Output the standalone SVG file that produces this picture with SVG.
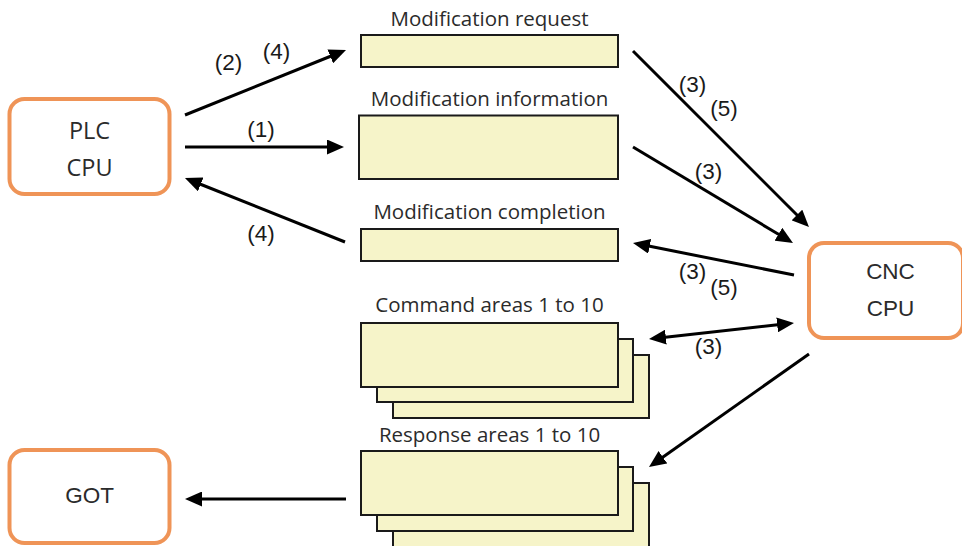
<svg xmlns="http://www.w3.org/2000/svg" width="962" height="546" viewBox="0 0 962 546">
<defs>
<style>
.dev{fill:#ffffff;stroke:#EF9457;stroke-width:4}
.area{fill:#F6F4C9;stroke:#1a1a1a;stroke-width:2}
.lbl{font-family:"Open Sans","Noto Sans",sans-serif;font-size:20.5px;fill:#2b2b2b;text-anchor:middle}
.plc{font-family:"Open Sans","Noto Sans",sans-serif;font-size:23.5px;fill:#2b2b2b;text-anchor:middle}
.dv{font-family:"Liberation Sans",Arial,sans-serif;font-size:22.5px;fill:#2b2b2b;text-anchor:middle}
.num{font-family:"Liberation Sans",Arial,sans-serif;font-size:22.5px;fill:#1a1a1a;text-anchor:middle}
.arr{stroke:#000;stroke-width:3;fill:none;marker-end:url(#ah)}
</style>
<marker id="ah" markerUnits="userSpaceOnUse" markerWidth="17" markerHeight="15" refX="5" refY="7.5" orient="auto-start-reverse" viewBox="0 0 17 15">
<path d="M0,0 L17,7.5 L0,15 z" fill="#000"/>
</marker>
</defs>

<g id="plc-cpu">
<rect class="dev" x="9.5" y="99" width="160" height="95" rx="15"/>
<text class="plc" x="89.5" y="139">PLC</text>
<text class="plc" x="89.5" y="176">CPU</text>
</g>

<g id="got">
<rect class="dev" x="9.5" y="450" width="160" height="93" rx="15"/>
<text class="dv" x="89.5" y="503">GOT</text>
</g>

<g id="cnc-cpu">
<rect class="dev" x="809" y="243" width="154" height="95" rx="15"/>
<text class="dv" x="890.5" y="279">CNC</text>
<text class="dv" x="890.5" y="316">CPU</text>
</g>

<g id="mod-request">
<text class="lbl" x="489.5" y="25.5">Modification request</text>
<rect class="area" x="361" y="35" width="257" height="32"/>
</g>

<g id="mod-information">
<text class="lbl" x="489.5" y="105.5">Modification information</text>
<rect class="area" x="359" y="115.5" width="259" height="63.5"/>
</g>

<g id="mod-completion">
<text class="lbl" x="489.5" y="219">Modification completion</text>
<rect class="area" x="361" y="229" width="257" height="32"/>
</g>

<g id="command-areas">
<text class="lbl" x="489.5" y="312">Command areas 1 to 10</text>
<rect class="area" x="393" y="355" width="256" height="63"/>
<rect class="area" x="377" y="339" width="256" height="63"/>
<rect class="area" x="361" y="323" width="257" height="64"/>
</g>

<g id="response-areas">
<text class="lbl" x="489.5" y="441.5">Response areas 1 to 10</text>
<rect class="area" x="393" y="483" width="256" height="70"/>
<rect class="area" x="377" y="467" width="256" height="64"/>
<rect class="area" x="361" y="451" width="257" height="64"/>
</g>

<g id="connectors">
<line class="arr" x1="185" y1="115" x2="334.9" y2="54.5"/>
<line class="arr" x1="185" y1="147" x2="332" y2="147"/>
<line class="arr" x1="345" y1="242" x2="196.1" y2="182.5"/>
<line class="arr" x1="633" y1="51" x2="800.5" y2="218.5"/>
<line class="arr" x1="633" y1="147" x2="782.7" y2="236.8"/>
<line class="arr" x1="794" y1="275" x2="644.8" y2="245.3"/>
<line class="arr" x1="660.9" y1="337.7" x2="782.1" y2="324.3" style="marker-start:url(#ah)"/>
<line class="arr" x1="809" y1="354" x2="658.8" y2="460.1"/>
<line class="arr" x1="346" y1="499" x2="197" y2="499"/>
</g>

<g id="step-labels">
<text class="num" x="228.5" y="69.5">(2)</text>
<text class="num" x="276.5" y="59">(4)</text>
<text class="num" x="261" y="136.5">(1)</text>
<text class="num" x="261" y="240.5">(4)</text>
<text class="num" x="692.5" y="91.5">(3)</text>
<text class="num" x="724" y="115.5">(5)</text>
<text class="num" x="708.5" y="178.5">(3)</text>
<text class="num" x="692.5" y="279">(3)</text>
<text class="num" x="724" y="294.5">(5)</text>
<text class="num" x="708.5" y="353.5">(3)</text>
</g>
</svg>
